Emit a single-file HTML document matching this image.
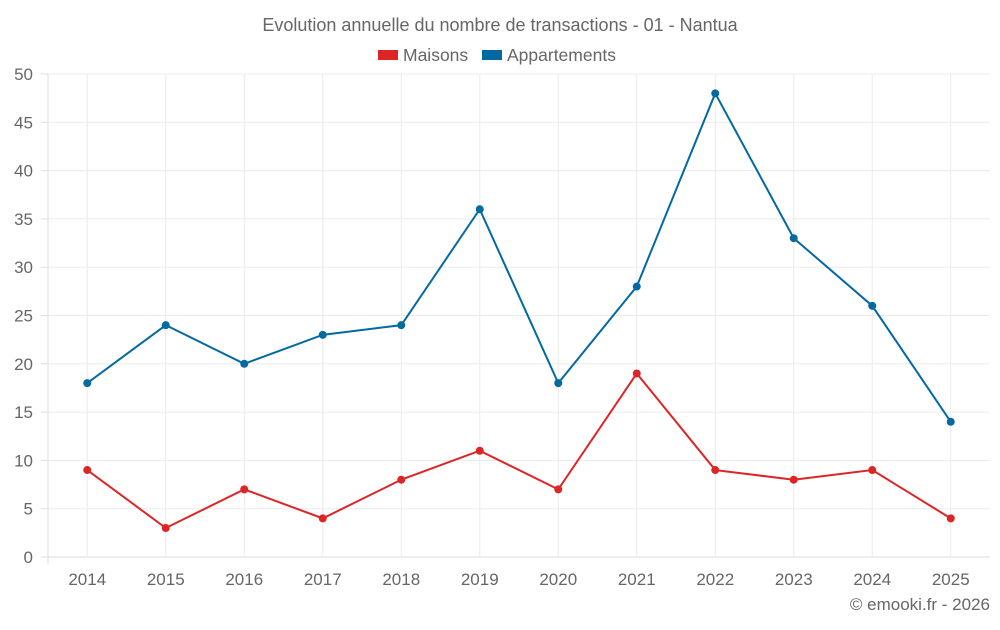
<!DOCTYPE html>
<html><head><meta charset="utf-8"><style>
body{margin:0;background:#fff;font-family:"Liberation Sans",sans-serif;}
svg text{font-family:"Liberation Sans",sans-serif;fill:#666;}
</style></head><body>
<svg id="c" width="1000" height="625">
<text x="500" y="31" text-anchor="middle" font-size="18">Evolution annuelle du nombre de transactions - 01 - Nantua</text>
<g>
<rect x="378" y="50" width="20" height="10" fill="#dc2626"/>
<text x="403" y="61" font-size="17.5">Maisons</text>
<rect x="482" y="50" width="20" height="10" fill="#0369a1"/>
<text x="507" y="61" font-size="17.5">Appartements</text>
</g>
<g id="grid"></g><g id="axes"></g><g id="series"></g>
<text x="990" y="610" text-anchor="end" font-size="17">© emooki.fr - 2026</text>
</svg>
<script>
const categories=["2014","2015","2016","2017","2018","2019","2020","2021","2022","2023","2024","2025"];
const maisons=[9,3,7,4,8,11,7,19,9,8,9,4];
const appartements=[18,24,20,23,24,36,18,28,48,33,26,14];
const yTicks=[0,5,10,15,20,25,30,35,40,45,50];
const L=48,R=990,T=74,B=557,yMax=50;
const bw=(R-L)/categories.length;
const x=i=>L+bw*(i+0.5);
const y=v=>B-(B-T)*v/yMax;
const NS="http://www.w3.org/2000/svg";
function mk(t,a,p){const e=document.createElementNS(NS,t);for(const k in a)e.setAttribute(k,a[k]);p.appendChild(e);return e;}
const grid=document.getElementById('grid'),axes=document.getElementById('axes'),ser=document.getElementById('series');
yTicks.forEach(v=>{
 const l=mk('line',{x1:L,x2:R,y1:y(v),y2:y(v),stroke:v==0?'#ddd':'#ececec','stroke-width':1},grid);
 
 
 mk('line',{x1:41,x2:L,y1:y(v),y2:y(v),stroke:'#ddd'},axes);
 const t=mk('text',{x:33,y:y(v)+6,'text-anchor':'end','font-size':17},axes);t.textContent=v;
 
 
});
mk('line',{x1:L,x2:L,y1:T,y2:B+7,stroke:'#ddd'},axes);
categories.forEach((c,i)=>{
 const l=mk('line',{x1:x(i),x2:x(i),y1:T,y2:B,stroke:'#ececec'},grid);
 
 
 const t=mk('text',{x:x(i),y:B+28,'text-anchor':'middle','font-size':17},axes);t.textContent=c;
 
 
});
function series(d,col,name){
 const p=mk('polyline',{points:d.map((v,i)=>x(i)+','+y(v)).join(' '),fill:'none',stroke:col,'stroke-width':2},ser);
 
 
 d.forEach((v,i)=>{const c=mk('circle',{cx:x(i),cy:y(v),r:4,fill:col},ser);
 
 });
}
series(maisons,'#dc2626','maisons');
series(appartements,'#0369a1','appartements');
</script>
</body></html>
